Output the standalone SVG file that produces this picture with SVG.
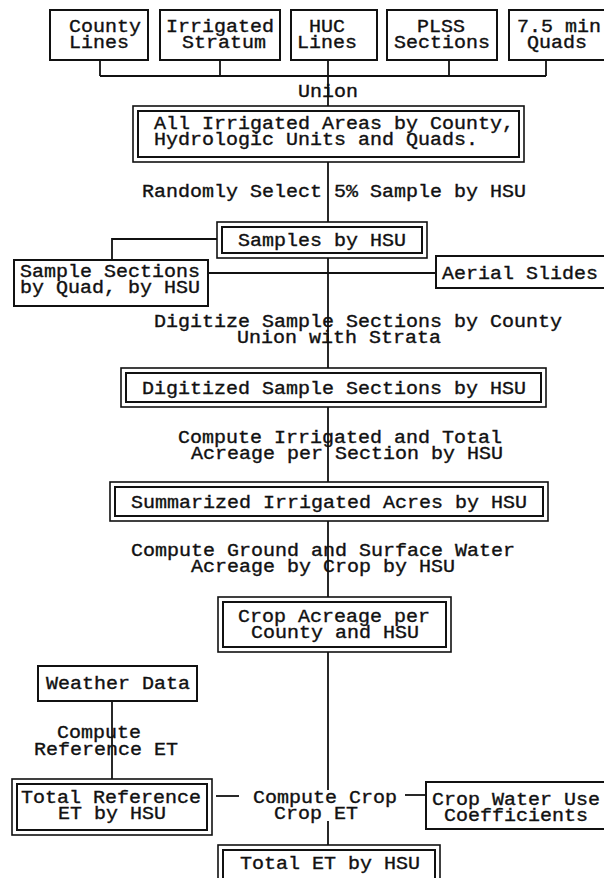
<svg xmlns="http://www.w3.org/2000/svg" width="604" height="878" viewBox="0 0 604 878">
<style>
  .bg { fill: #ffffff; }
  rect.box { fill: #ffffff; stroke: #111; stroke-width: 2; }
  rect.o { fill: #ffffff; stroke: #111; stroke-width: 1.6; }
  rect.i { fill: none; stroke: #111; stroke-width: 2; }
  text { font-family: "Liberation Mono", "Courier New", monospace; font-size: 18px; fill: #111; stroke: #111; stroke-width: 0.35; }
  .m { text-anchor: middle; }
  .ln { stroke: #111; stroke-width: 1.8; fill: none; }
</style>
<rect class="bg" x="0" y="0" width="604" height="878"/>

<g id="connectors">
  <path class="ln" d="M100,60 V76 M220,60 V76 M328,60 V76 M449,60 V76 M546,60 V76 M100,76 H546"/>
  <path class="ln" d="M328,76 V106"/>
  <path class="ln" d="M328,162 V222"/>
  <path class="ln" d="M217,239 H112 V260"/>
  <path class="ln" d="M208,273 H436"/>
  <path class="ln" d="M328,258 V368"/>
  <path class="ln" d="M328,407 V482"/>
  <path class="ln" d="M328,521 V597"/>
  <path class="ln" d="M328,652 V790"/>
  <path class="ln" d="M328,821 V845"/>
  <path class="ln" d="M112,701 V779"/>
  <path class="ln" d="M216,796 H239"/>
  <path class="ln" d="M405,795 H426"/>
</g>

<g id="labels">
  <text class="m" x="328" y="97" textLength="60" lengthAdjust="spacingAndGlyphs">Union</text>
  <text x="142" y="197" textLength="384" lengthAdjust="spacingAndGlyphs">Randomly Select 5% Sample by HSU</text>
  <text class="m" x="358" y="327" textLength="408" lengthAdjust="spacingAndGlyphs">Digitize Sample Sections by County</text>
  <text class="m" x="339" y="343" textLength="204" lengthAdjust="spacingAndGlyphs">Union with Strata</text>
  <text class="m" x="340" y="443" textLength="324" lengthAdjust="spacingAndGlyphs">Compute Irrigated and Total</text>
  <text class="m" x="347" y="459" textLength="312" lengthAdjust="spacingAndGlyphs">Acreage per Section by HSU</text>
  <text x="131" y="556" textLength="384" lengthAdjust="spacingAndGlyphs">Compute Ground and Surface Water</text>
  <text x="191" y="572" textLength="264" lengthAdjust="spacingAndGlyphs">Acreage by Crop by HSU</text>
  <text class="m" x="99" y="738" textLength="84" lengthAdjust="spacingAndGlyphs">Compute</text>
  <text class="m" x="106" y="755" textLength="144" lengthAdjust="spacingAndGlyphs">Reference ET</text>
  <text x="253" y="803" textLength="144" lengthAdjust="spacingAndGlyphs">Compute Crop</text>
  <text class="m" x="316" y="819" textLength="84" lengthAdjust="spacingAndGlyphs">Crop ET</text>
</g>

<g id="county-lines">
  <rect class="box" x="50" y="10" width="98" height="50"/>
  <text x="69" y="32" textLength="72" lengthAdjust="spacingAndGlyphs">County</text>
  <text x="69" y="48" textLength="60" lengthAdjust="spacingAndGlyphs">Lines</text>
</g>
<g id="irrigated-stratum">
  <rect class="box" x="160" y="10" width="120" height="50"/>
  <text class="m" x="220" y="32" textLength="108" lengthAdjust="spacingAndGlyphs">Irrigated</text>
  <text class="m" x="224" y="48" textLength="84" lengthAdjust="spacingAndGlyphs">Stratum</text>
</g>
<g id="huc-lines">
  <rect class="box" x="291" y="10" width="86" height="50"/>
  <text class="m" x="327" y="32" textLength="36" lengthAdjust="spacingAndGlyphs">HUC</text>
  <text class="m" x="327" y="48" textLength="60" lengthAdjust="spacingAndGlyphs">Lines</text>
</g>
<g id="plss-sections">
  <rect class="box" x="387" y="10" width="110" height="50"/>
  <text class="m" x="441" y="32" textLength="48" lengthAdjust="spacingAndGlyphs">PLSS</text>
  <text class="m" x="442" y="48" textLength="96" lengthAdjust="spacingAndGlyphs">Sections</text>
</g>
<g id="quads">
  <rect class="box" x="509" y="10" width="100" height="50"/>
  <text class="m" x="559" y="32" textLength="84" lengthAdjust="spacingAndGlyphs">7.5 min</text>
  <text class="m" x="557" y="48" textLength="60" lengthAdjust="spacingAndGlyphs">Quads</text>
</g>

<g id="all-irrigated">
  <rect class="o" x="133" y="106" width="391" height="56"/>
  <rect class="i" x="138" y="111" width="381" height="46"/>
  <text x="154" y="129" textLength="360" lengthAdjust="spacingAndGlyphs">All Irrigated Areas by County,</text>
  <text x="154" y="145" textLength="324" lengthAdjust="spacingAndGlyphs">Hydrologic Units and Quads.</text>
</g>

<g id="samples">
  <rect class="o" x="217" y="222" width="210" height="36"/>
  <rect class="i" x="222" y="227" width="200" height="26"/>
  <text class="m" x="322" y="246" textLength="168" lengthAdjust="spacingAndGlyphs">Samples by HSU</text>
</g>

<g id="sample-sections">
  <rect class="box" x="14" y="260" width="194" height="46"/>
  <text x="20" y="277" textLength="180" lengthAdjust="spacingAndGlyphs">Sample Sections</text>
  <text x="20" y="293" textLength="180" lengthAdjust="spacingAndGlyphs">by Quad, by HSU</text>
</g>

<g id="aerial-slides">
  <rect class="box" x="436" y="256" width="172" height="32"/>
  <text x="442" y="279" textLength="156" lengthAdjust="spacingAndGlyphs">Aerial Slides</text>
</g>

<g id="digitized">
  <rect class="o" x="121" y="368" width="425" height="39"/>
  <rect class="i" x="126" y="373" width="415" height="29"/>
  <text x="142" y="394" textLength="384" lengthAdjust="spacingAndGlyphs">Digitized Sample Sections by HSU</text>
</g>

<g id="summarized">
  <rect class="o" x="110" y="482" width="438" height="39"/>
  <rect class="i" x="115" y="487" width="428" height="29"/>
  <text x="131" y="508" textLength="396" lengthAdjust="spacingAndGlyphs">Summarized Irrigated Acres by HSU</text>
</g>

<g id="crop-acreage">
  <rect class="o" x="218" y="597" width="233" height="55"/>
  <rect class="i" x="223" y="602" width="223" height="45"/>
  <text class="m" x="334" y="622" textLength="192" lengthAdjust="spacingAndGlyphs">Crop Acreage per</text>
  <text class="m" x="335" y="638" textLength="168" lengthAdjust="spacingAndGlyphs">County and HSU</text>
</g>

<g id="weather-data">
  <rect class="box" x="38" y="666" width="159" height="35"/>
  <text class="m" x="118" y="689" textLength="144" lengthAdjust="spacingAndGlyphs">Weather Data</text>
</g>

<g id="total-reference">
  <rect class="o" x="12" y="779" width="200" height="56"/>
  <rect class="i" x="17" y="784" width="190" height="46"/>
  <text class="m" x="111" y="803" textLength="180" lengthAdjust="spacingAndGlyphs">Total Reference</text>
  <text class="m" x="112" y="819" textLength="108" lengthAdjust="spacingAndGlyphs">ET by HSU</text>
</g>

<g id="crop-water-use">
  <rect class="box" x="426" y="782" width="184" height="47"/>
  <text x="432" y="805" textLength="168" lengthAdjust="spacingAndGlyphs">Crop Water Use</text>
  <text class="m" x="516" y="821" textLength="144" lengthAdjust="spacingAndGlyphs">Coefficients</text>
</g>

<g id="total-et">
  <rect class="o" x="218" y="845" width="222" height="40"/>
  <rect class="i" x="223" y="850" width="212" height="40"/>
  <text class="m" x="330" y="869" textLength="180" lengthAdjust="spacingAndGlyphs">Total ET by HSU</text>
</g>
</svg>
